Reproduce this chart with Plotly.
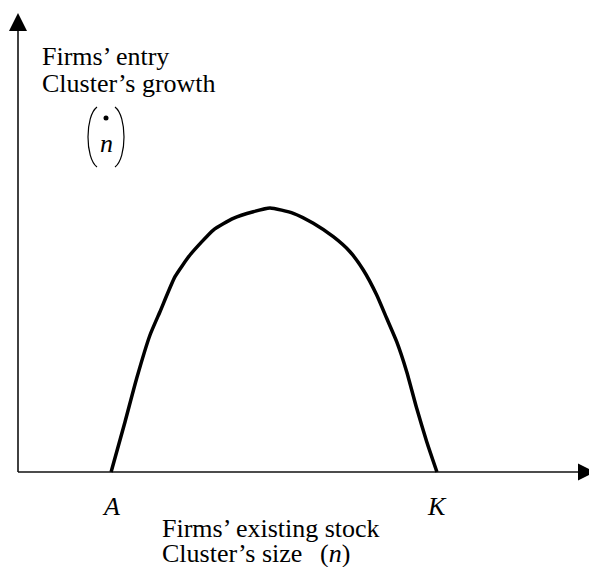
import plotly.graph_objects as go

# ---- data ----
n_stock = [2.0, 2.30, 2.55, 2.836, 3.05, 3.373, 3.695, 4.196, 4.625, 5.055, 5.414,
           5.914, 6.344, 6.773, 7.132, 7.418, 7.706, 7.92, 8.135, 8.35, 8.565, 8.78, 9.0]
n_growth = [0.0, 0.953, 1.775, 2.595, 3.036, 3.699, 4.11, 4.583, 4.805, 4.93, 5.0,
            4.9, 4.71, 4.456, 4.172, 3.826, 3.352, 2.911, 2.468, 1.9, 1.206, 0.574, 0.0]
tick_vals = [2.0, 9.0]
tick_text = ["A", "K"]

# page offset of the plot (browser body margin) is 8 px
OFF = 8
W, H = 597 - OFF, 567 - OFF
XS, X0 = 46.55, 18      # px per unit, pixel of origin (reference frame)
YS, Y0 = 52.8, 472

def px_x(p):
    return (p - X0) / XS

def px_y(p):
    return (Y0 - p) / YS

X_RANGE = [px_x(OFF), px_x(597)]
Y_RANGE = [px_y(567), px_y(OFF)]

FONT = "Liberation Serif, Times New Roman, serif"
FS = 26

fig = go.Figure()

# axes
fig.add_trace(go.Scatter(x=[0, px_x(590)], y=[0, 0], mode="lines",
                         line=dict(color="#111", width=1.6), hoverinfo="skip"))
fig.add_trace(go.Scatter(x=[0, 0], y=[0, px_y(25)], mode="lines",
                         line=dict(color="#111", width=1.6), hoverinfo="skip"))
# arrow heads
fig.add_trace(go.Scatter(x=[0], y=[px_y(13)], mode="markers",
                         marker=dict(symbol="arrow-up", size=18, color="black",
                                     line=dict(width=0)), hoverinfo="skip"))
fig.add_trace(go.Scatter(x=[px_x(595)], y=[0], mode="markers",
                         marker=dict(symbol="arrow-right", size=17, color="black",
                                     line=dict(width=0)), hoverinfo="skip"))

# curve
fig.add_trace(go.Scatter(x=n_stock, y=n_growth, mode="lines",
                         line=dict(color="black", width=3.5, shape="spline", smoothing=0.5),
                         hoverinfo="skip"))

ann = []
def text(x, y, s, size=FS, anchor="left"):
    ann.append(dict(x=x, y=y, xref="x", yref="y", text=s, showarrow=False,
                    xanchor=anchor, yanchor="middle",
                    font=dict(family=FONT, size=size, color="black")))

# axis tick labels from data
for v, t in zip(tick_vals, tick_text):
    text(v, px_y(506), "<i>%s</i>" % t, anchor="center")

# y label
text(px_x(40), px_y(56), "Firms\u2019 entry")
text(px_x(40), px_y(83), "Cluster\u2019s growth")
text(px_x(106), px_y(143), "<i>n</i>", anchor="center")

# x label
text(px_x(160), px_y(528), "Firms\u2019 existing stock")
text(px_x(160), px_y(553), "Cluster\u2019s size")
text(px_x(318), px_y(553), "(<i>n</i>)")

def path(pts):
    (a, b), (c, d), (e, f), (g, h) = [(px_x(x), px_y(y)) for x, y in pts]
    return "M %f,%f C %f,%f %f,%f %f,%f" % (a, b, c, d, e, f, g, h)

shapes = [
    dict(type="path", xref="x", yref="y",
         path=path([(97, 107), (85, 116), (85, 158), (97, 167)]),
         line=dict(color="black", width=1.2)),
    dict(type="path", xref="x", yref="y",
         path=path([(115, 107), (127, 116), (127, 158), (115, 167)]),
         line=dict(color="black", width=1.2)),
    dict(type="circle", xref="x", yref="y",
         x0=px_x(103.5), x1=px_x(108.5), y0=px_y(120.5), y1=px_y(115.5),
         fillcolor="black", line=dict(color="black", width=0)),
]

fig.update_layout(
    width=W, height=H, margin=dict(l=0, r=0, t=0, b=0),
    paper_bgcolor="white", plot_bgcolor="white", showlegend=False,
    xaxis=dict(range=X_RANGE, visible=False, fixedrange=True),
    yaxis=dict(range=Y_RANGE, visible=False, fixedrange=True),
    annotations=ann, shapes=shapes,
)

fig.write_html("out.html")
